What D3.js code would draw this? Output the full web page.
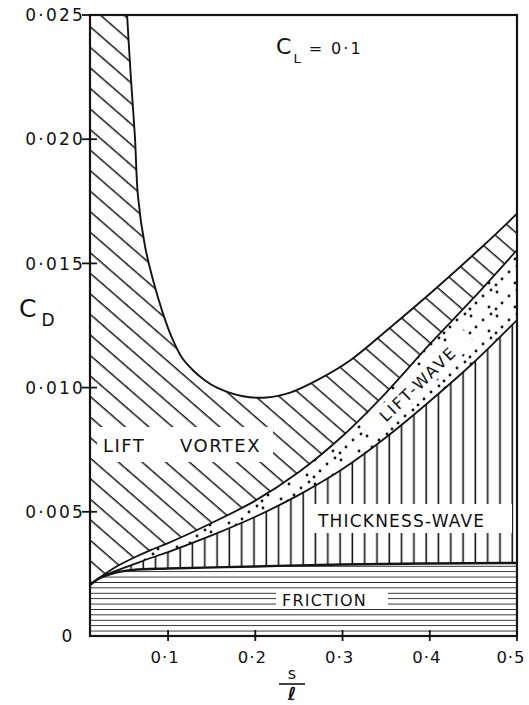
<!DOCTYPE html>
<html><head><meta charset="utf-8">
<script src="https://cdn.jsdelivr.net/npm/d3@7"></script>
<style>
html,body{margin:0;padding:0;background:#fff;}
svg{display:block;}
text{font-family:"DejaVu Sans",sans-serif;fill:#111;}
</style></head>
<body>
<svg id="chart" width="529" height="705"></svg>
<script>
// ---- data (s/l on x, C_D on y) ----
const totalSl = [0.053,0.0575,0.062,0.0655,0.0735,0.083,0.094,0.1045,0.116,0.1285,0.142,0.156,0.186,0.213,0.24,0.271,0.309,0.354,0.404,0.461,0.5];
const totalCd = [0.025,0.0224,0.0201,0.0177,0.0157,0.0143,0.013,0.012,0.0112,0.0107,0.0103,0.0100,0.00965,0.0096,0.0098,0.0103,0.0111,0.0124,0.0139,0.0157,0.0170];
const gridSl = [0.02,0.04,0.06,0.08,0.1,0.15,0.2,0.25,0.3,0.35,0.4,0.45,0.5];
const liftWaveTop = [0.00232,0.00278,0.00314,0.00346,0.00374,0.00455,0.00545,0.0066,0.00805,0.0098,0.01175,0.0136,0.01554];
const thicknessTop = [0.00232,0.00262,0.00288,0.00314,0.00338,0.00405,0.0048,0.00568,0.00672,0.008,0.00945,0.011,0.01272];
const frictionSl = [0.0105,0.02,0.04,0.06,0.1,0.2,0.3,0.4,0.5];
const frictionTop = [0.00205,0.0023,0.00255,0.00266,0.00272,0.0028,0.00288,0.00292,0.00294];
const xTicks = [0.1,0.2,0.3,0.4,0.5];
const xTickLabels = ["0·1","0·2","0·3","0·4","0·5"];
const yTicks = [0.005,0.010,0.015,0.020,0.025];
const yTickLabels = ["0·005","0·010","0·015","0·020","0·025"];

const svg = d3.select("#chart");
const L = 90, R = 517, T = 15, B = 636;
const x = d3.scaleLinear().domain([0.0105, 0.5]).range([L, R]);
const y = d3.scaleLinear().domain([0, 0.025]).range([B, T]);
const ink = "#141414";

const defs = svg.append("defs");
const pd = defs.append("pattern").attr("id","diag").attr("patternUnits","userSpaceOnUse")
  .attr("width",40).attr("height",15.5).attr("patternTransform","rotate(41)");
pd.append("line").attr("x1",0).attr("x2",40).attr("y1",7.5).attr("y2",7.5).attr("stroke",ink).attr("stroke-width",1.6);
const pv = defs.append("pattern").attr("id","vert").attr("patternUnits","userSpaceOnUse")
  .attr("width",12.3).attr("height",10).attr("patternTransform","translate(2,0)");
pv.append("line").attr("x1",6).attr("x2",6).attr("y1",0).attr("y2",10).attr("stroke",ink).attr("stroke-width",1.6);
const ph = defs.append("pattern").attr("id","horiz").attr("patternUnits","userSpaceOnUse")
  .attr("width",10).attr("height",5.4).attr("patternTransform","translate(0,"+B+")");
ph.append("line").attr("x1",0).attr("x2",10).attr("y1",0).attr("y2",0).attr("stroke",ink).attr("stroke-width",1.7);
const pdot = defs.append("pattern").attr("id","dots").attr("patternUnits","userSpaceOnUse")
  .attr("width",26).attr("height",24);
[[3,4],[15,8],[8,15],[21,19],[23,2],[2,21]].forEach(p=>{
  pdot.append("circle").attr("cx",p[0]).attr("cy",p[1]).attr("r",1.45).attr("fill",ink);
});
defs.append("clipPath").attr("id","frame").append("rect")
  .attr("x",L).attr("y",T).attr("width",R-L).attr("height",B-T);

svg.append("rect").attr("width",529).attr("height",705).attr("fill","#fff");
const g = svg.append("g").attr("clip-path","url(#frame)");

const zip = (a,b)=>a.map((v,i)=>[v,b[i]]);
const totalPts = zip(totalSl,totalCd);
const wPts = zip(gridSl,liftWaveTop);
const tPts = zip(gridSl,thicknessTop);
const fPts = zip(frictionSl,frictionTop);

const crv = d3.curveCatmullRom.alpha(0.5);
const area = d3.area().x(d=>x(d[0])).y0(y(0)).y1(d=>y(d[1])).curve(crv);
const line = d3.line().x(d=>x(d[0])).y(d=>y(d[1])).curve(crv);

g.append("rect").attr("x",x.range()[0]).attr("y",y(0.025))
  .attr("width",x(totalSl[0])-x.range()[0]+0.5).attr("height",y(0)-y(0.025)).attr("fill","url(#diag)");
g.append("path").attr("d",area(totalPts)).attr("fill","url(#diag)");
g.append("path").attr("d",area(wPts)).attr("fill","#fff");
g.append("path").attr("d",area(wPts)).attr("fill","url(#dots)");
g.append("path").attr("d",area(tPts)).attr("fill","#fff");
g.append("path").attr("d",area(tPts)).attr("fill","url(#vert)");
g.append("path").attr("d",area(fPts)).attr("fill","#fff");
g.append("path").attr("d",area(fPts)).attr("fill","url(#horiz)");

g.append("rect").attr("x",97).attr("y",427).attr("width",176).attr("height",35).attr("fill","#fff");
g.append("rect").attr("x",310).attr("y",504).attr("width",202).attr("height",29).attr("fill","#fff");
g.append("rect").attr("x",276).attr("y",590).attr("width",112).attr("height",19).attr("fill","#fff");
g.append("rect").attr("x",-70).attr("y",-10).attr("width",140).attr("height",20).attr("fill","#fff")
  .attr("transform","translate(418,384) rotate(-44)");

g.append("path").attr("d",line(totalPts)).attr("fill","none").attr("stroke",ink).attr("stroke-width",1.9);
g.append("path").attr("d",line(wPts)).attr("fill","none").attr("stroke",ink).attr("stroke-width",1.8);
g.append("path").attr("d",line(tPts)).attr("fill","none").attr("stroke",ink).attr("stroke-width",1.8);
g.append("path").attr("d",line(fPts)).attr("fill","none").attr("stroke",ink).attr("stroke-width",2.4);

svg.append("rect").attr("x",L).attr("y",T).attr("width",R-L).attr("height",B-T)
  .attr("fill","none").attr("stroke",ink).attr("stroke-width",2.2);

yTicks.forEach((v,i)=>{
  svg.append("line").attr("x1",L-8).attr("x2",L+7).attr("y1",y(v)).attr("y2",y(v)).attr("stroke",ink).attr("stroke-width",1.8);
  svg.append("text").attr("x",L-5).attr("y",y(v)).attr("dy","0.36em").attr("text-anchor","end")
    .attr("font-size",17).attr("letter-spacing",2.2).text(yTickLabels[i]);
});
svg.append("text").attr("x",67).attr("y",y(0)).attr("dy","0.36em").attr("text-anchor","middle")
  .attr("font-size",17).text("0");
xTicks.forEach((v,i)=>{
  svg.append("line").attr("x1",x(v)).attr("x2",x(v)).attr("y1",B-6).attr("y2",B+5).attr("stroke",ink).attr("stroke-width",1.8);
  svg.append("text").attr("x",Math.min(x(v)-3, 511)).attr("y",663).attr("text-anchor","middle")
    .attr("font-size",16.5).attr("letter-spacing",1).text(xTickLabels[i]);
});

const yl = svg.append("text").attr("x",19).attr("y",317);
yl.append("tspan").attr("font-size",25).text("C");
yl.append("tspan").attr("font-size",17).attr("dx",5).attr("dy",9).text("D");
svg.append("text").attr("x",292).attr("y",679).attr("text-anchor","middle").attr("font-size",16).text("s");
svg.append("line").attr("x1",279).attr("x2",305).attr("y1",684).attr("y2",684).attr("stroke",ink).attr("stroke-width",1.6);
svg.append("text").attr("x",292).attr("y",700).attr("text-anchor","middle").attr("font-size",18)
  .attr("font-weight","bold").attr("font-style","italic").text("ℓ");

const tl = svg.append("text").attr("x",276).attr("y",54);
tl.append("tspan").attr("font-size",22).text("C");
tl.append("tspan").attr("font-size",13).attr("dx",2).attr("dy",9).text("L");
tl.append("tspan").attr("font-size",16).attr("dx",8).attr("dy",-9).attr("letter-spacing",2).text("= 0·1");

svg.append("text").attr("x",103).attr("y",452).attr("font-size",18).attr("letter-spacing",1.5).text("LIFT");
svg.append("text").attr("x",180).attr("y",452).attr("font-size",18).attr("letter-spacing",1.5).text("VORTEX");
svg.append("text").attr("x",318).attr("y",527).attr("font-size",17).attr("letter-spacing",1.2).text("THICKNESS-WAVE");
svg.append("text").attr("x",282).attr("y",606).attr("font-size",16).attr("letter-spacing",1.2).text("FRICTION");
svg.append("text").attr("text-anchor","middle").attr("dy","0.36em").attr("font-size",16).attr("letter-spacing",2)
  .attr("transform","translate(418,384) rotate(-44)").text("LIFT-WAVE");
</script>
</body></html>
